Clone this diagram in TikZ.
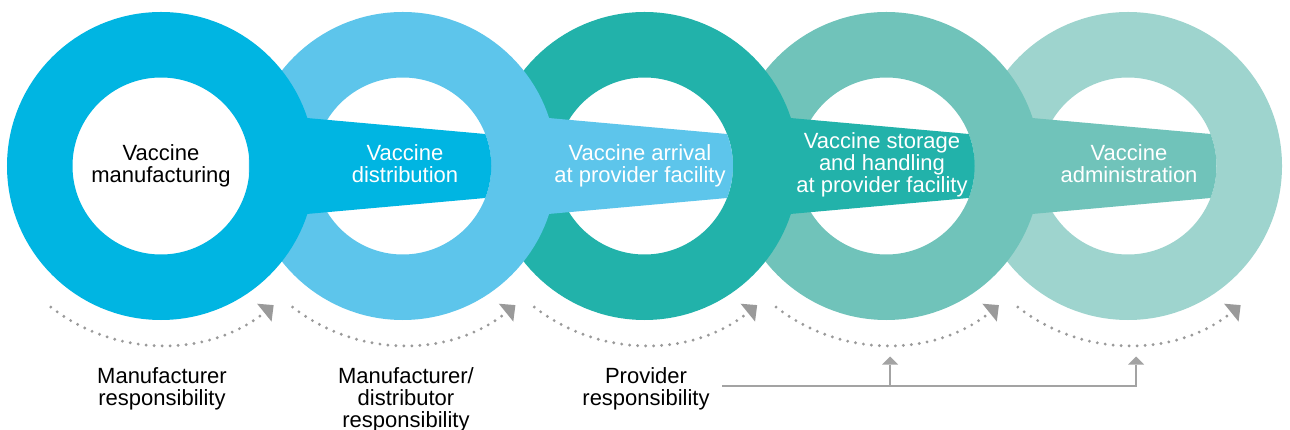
\documentclass[tikz,border=0pt]{standalone}
\usepackage{fontspec}
\setmainfont{Liberation Sans}
\usetikzlibrary{arrows.meta}
\definecolor{cA}{HTML}{00B5E2}
\definecolor{cB}{HTML}{5DC5EB}
\definecolor{cC}{HTML}{22B2AA}
\definecolor{cD}{HTML}{70C3BA}
\definecolor{cE}{HTML}{9ED4CE}
\definecolor{dotgray}{HTML}{9A9A9A}
\definecolor{linegray}{HTML}{A3A3A3}
\begin{document}
\begin{tikzpicture}[x=1pt,y=1pt,
  ring/.style={circle,minimum size=242.5pt,inner sep=0pt,outer sep=0pt,line width=65.5pt},
  lbl/.style={font=\fontsize{22}{22}\selectfont,align=center,inner sep=0pt,outer sep=0pt,anchor=north},
  dotarc/.style={draw=dotgray,line width=3.2pt,line cap=round,dash pattern=on 0pt off 8pt,
    -{Triangle[length=12pt,width=23pt,line width=0pt]}},
  conn/.style={draw=linegray,line width=2pt},
  uparrow/.style={conn,-{Triangle[length=8pt,width=16pt,line width=0pt]}}]
\fill[white] (0,0) rectangle (1290,-430);
\useasboundingbox (0,0) rectangle (1290,-430);

% rings and bands (back to front)
\node[ring,draw=cE] (r5) at (1128,-166) {};
\node[ring,draw=cD] (r4) at (886.25,-166) {};
\fill[cD] ([shift={(110pt,51.2pt)}]r4.center) -- ([shift={(82.5pt,32pt)}]r5.center)
  arc[start angle=21.2,end angle=-21.2,radius=88.5pt] -- ([shift={(110pt,-51.2pt)}]r4.center) -- cycle;
\node[ring,draw=cC] (r3) at (644.5,-166) {};
\fill[cC] ([shift={(110pt,51.2pt)}]r3.center) -- ([shift={(82.5pt,32pt)}]r4.center)
  arc[start angle=21.2,end angle=-21.2,radius=88.5pt] -- ([shift={(110pt,-51.2pt)}]r3.center) -- cycle;
\node[ring,draw=cB] (r2) at (402.75,-166) {};
\fill[cB] ([shift={(110pt,51.2pt)}]r2.center) -- ([shift={(82.5pt,32pt)}]r3.center)
  arc[start angle=21.2,end angle=-21.2,radius=88.5pt] -- ([shift={(110pt,-51.2pt)}]r2.center) -- cycle;
\node[ring,draw=cA] (r1) at (161,-166) {};
\fill[cA] ([shift={(110pt,51.2pt)}]r1.center) -- ([shift={(82.5pt,32pt)}]r2.center)
  arc[start angle=21.2,end angle=-21.2,radius=88.5pt] -- ([shift={(110pt,-51.2pt)}]r1.center) -- cycle;

% ring texts
\node[lbl,text=black] (t1) at (161,-144.2) {Vaccine\\manufacturing};
\node[lbl,text=white] (t2) at (405,-144.2) {Vaccine\\distribution};
\node[lbl,text=white] (t3) at (640,-144.2) {Vaccine arrival\\at provider facility};
\node[lbl,text=white] (t4) at (882,-132.5) {Vaccine storage\\and handling\\at provider facility};
\node[lbl,text=white] (t5) at (1129,-144.2) {Vaccine\\administration};

% dotted arcs
\foreach \r in {r1,r2,r3,r4,r5}{
  \draw[dotarc] ([shift={(232:179pt)}]\r.center) arc[start angle=232,end angle=309,radius=179pt];
}

% responsibility labels
\node[lbl] (p1) at (162,-367.3) {Manufacturer\\responsibility};
\node[lbl] (p2) at (406,-367.3) {Manufacturer/\\distributor\\responsibility};
\node[lbl] (p3) at (646,-367.3) {Provider\\responsibility};

% provider connector
\coordinate (pstart) at (722,-386);
\coordinate (j1) at (890,-386);
\coordinate (j2) at (1136,-386);
\coordinate (a4) at (890,-356.5);
\coordinate (a5) at (1136,-356.5);
\draw[uparrow] (pstart) -- (j2) -- (a5);
\draw[uparrow] (j1) -- (a4);
\end{tikzpicture}
\end{document}
